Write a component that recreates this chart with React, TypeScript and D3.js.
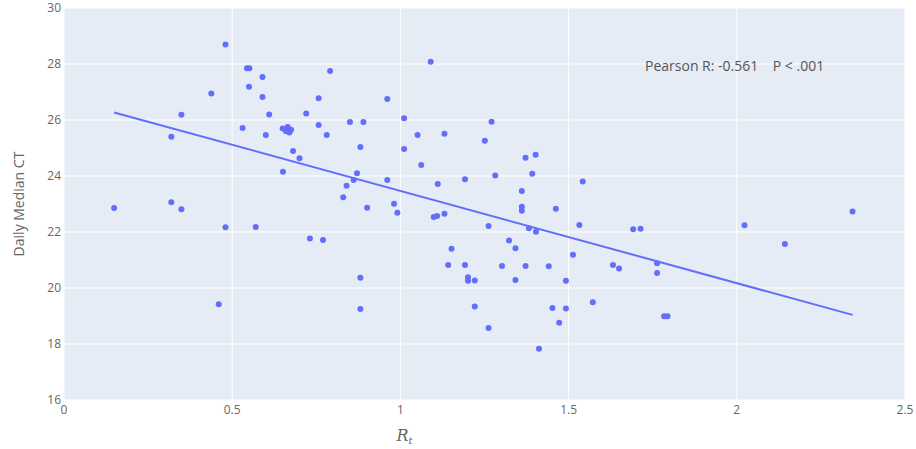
import React from "react";
import * as d3 from "d3";

const xVals = [
  0.149, 0.319, 0.349, 0.319, 0.349, 0.438, 0.48, 0.531, 0.544, 0.551, 0.55, 0.59, 0.59, 0.61, 0.6,
  0.65, 0.66, 0.665, 0.67, 0.675, 0.651, 0.681, 0.7, 0.72, 0.757, 0.757, 0.791, 0.781, 0.85, 0.89,
  0.881, 0.961, 1.011, 1.011, 1.051, 1.09, 1.131, 1.062, 0.871, 0.861, 0.84, 0.83, 0.901, 0.961,
  0.981, 0.991, 1.111, 1.099, 1.109, 1.131, 1.192, 1.251, 1.271, 1.282, 1.262, 1.361, 1.361, 1.361,
  1.372, 1.402, 1.392, 1.462, 1.542, 1.532, 1.382, 1.403, 0.48, 0.57, 0.731, 0.77, 0.46, 0.881,
  0.881, 1.152, 1.142, 1.192, 1.201, 1.201, 1.221, 1.221, 1.262, 1.302, 1.323, 1.342, 1.342, 1.372,
  1.412, 1.441, 1.452, 1.472, 1.492, 1.492, 1.513, 1.572, 1.632, 1.65, 1.692, 1.714, 1.763, 1.763,
  1.784, 1.794, 2.023, 2.143, 2.344,
];
const yVals = [
  22.86, 25.4, 26.19, 23.06, 22.81, 26.95, 28.7, 25.71, 27.85, 27.85, 27.19, 27.54, 26.82, 26.2, 25.46,
  25.7, 25.6, 25.75, 25.55, 25.65, 24.15, 24.89, 24.63, 26.23, 26.78, 25.82, 27.75, 25.46, 25.93, 25.93,
  25.04, 26.75, 26.06, 24.96, 25.46, 28.08, 25.51, 24.39, 24.1, 23.86, 23.65, 23.24, 22.87, 23.86,
  23.01, 22.69, 23.71, 22.54, 22.57, 22.65, 23.88, 25.26, 25.94, 24.02, 22.21, 23.46, 22.9, 22.76,
  24.65, 24.76, 24.08, 22.83, 23.8, 22.25, 22.13, 22.01, 22.17, 22.18, 21.77, 21.71, 19.42, 20.37,
  19.25, 21.4, 20.82, 20.82, 20.38, 20.26, 20.27, 19.34, 18.57, 20.79, 21.7, 21.42, 20.29, 20.79,
  17.83, 20.78, 19.29, 18.76, 20.26, 19.27, 21.19, 19.49, 20.82, 20.7, 22.1, 22.12, 20.88, 20.54,
  18.99, 18.99, 22.24, 21.57, 22.73,
];
const trendX = [0.149, 2.344];
const trendY = [26.27, 19.04];
const xTicks = [0, 0.5, 1, 1.5, 2, 2.5];
const yTicks = [16, 18, 20, 22, 24, 26, 28, 30];
const annotation = "Pearson R: -0.561    P < .001";

export default function App() {
  const W = 916, H = 449;
  const L = 64, R = 905, T = 8, B = 400;
  const x = d3.scaleLinear().domain([0, 2.5]).range([L, R]);
  const y = d3.scaleLinear().domain([16, 30]).range([B, T]);
  const line = d3.line<number>().x((d) => x(trendX[d])).y((d) => y(trendY[d]));
  const font = "'Open Sans', 'Noto Sans', sans-serif";
  return (
    <svg width={W} height={H} style={{ position: "absolute", left: 0, top: 0, background: "#fff" }}>
      <rect x={L} y={T} width={R - L} height={B - T} fill="#E5ECF6" />
      {xTicks.map((t) => (
        <line key={"gx" + t} x1={x(t)} x2={x(t)} y1={T} y2={B} stroke="#fff" strokeWidth={1} />
      ))}
      {yTicks.map((t) => (
        <line key={"gy" + t} x1={L} x2={R} y1={y(t)} y2={y(t)} stroke="#fff" strokeWidth={1} />
      ))}
      {yTicks.map((t) => (
        <text key={"ty" + t} x={L - 3} y={y(t)} dy="0.35em" textAnchor="end" fontFamily={font} fontSize={12} fill="#666">
          {t}
        </text>
      ))}
      {xTicks.map((t) => (
        <text key={"tx" + t} x={x(t)} y={B + 14} textAnchor="middle" fontFamily={font} fontSize={12} fill="#666">
          {t}
        </text>
      ))}
      <path d={line([0, 1]) || ""} fill="none" stroke="#636EFA" strokeWidth={2} />
      {xVals.map((v, i) => (
        <circle key={i} cx={x(v)} cy={y(yVals[i])} r={3} fill="#636EFA" />
      ))}
      <text x={645} y={66} dy="0.35em" fontFamily={font} fontSize={14} fill="#555" style={{ whiteSpace: "pre" }}>
        {annotation}
      </text>
      <text
        transform={`translate(19,${(T + B) / 2}) rotate(-90)`}
        textAnchor="middle"
        dy="0.35em"
        fontFamily={font}
        fontSize={14}
        fill="#666"
      >
        Daily Median CT
      </text>
      <text x={(L + R) / 2 - 80} y={441} textAnchor="middle" fontFamily="'DejaVu Serif', serif" fontStyle="italic" fontSize={16} fill="#666">
        R<tspan fontSize={10} dy={3}>t</tspan>
      </text>
    </svg>
  );
}
